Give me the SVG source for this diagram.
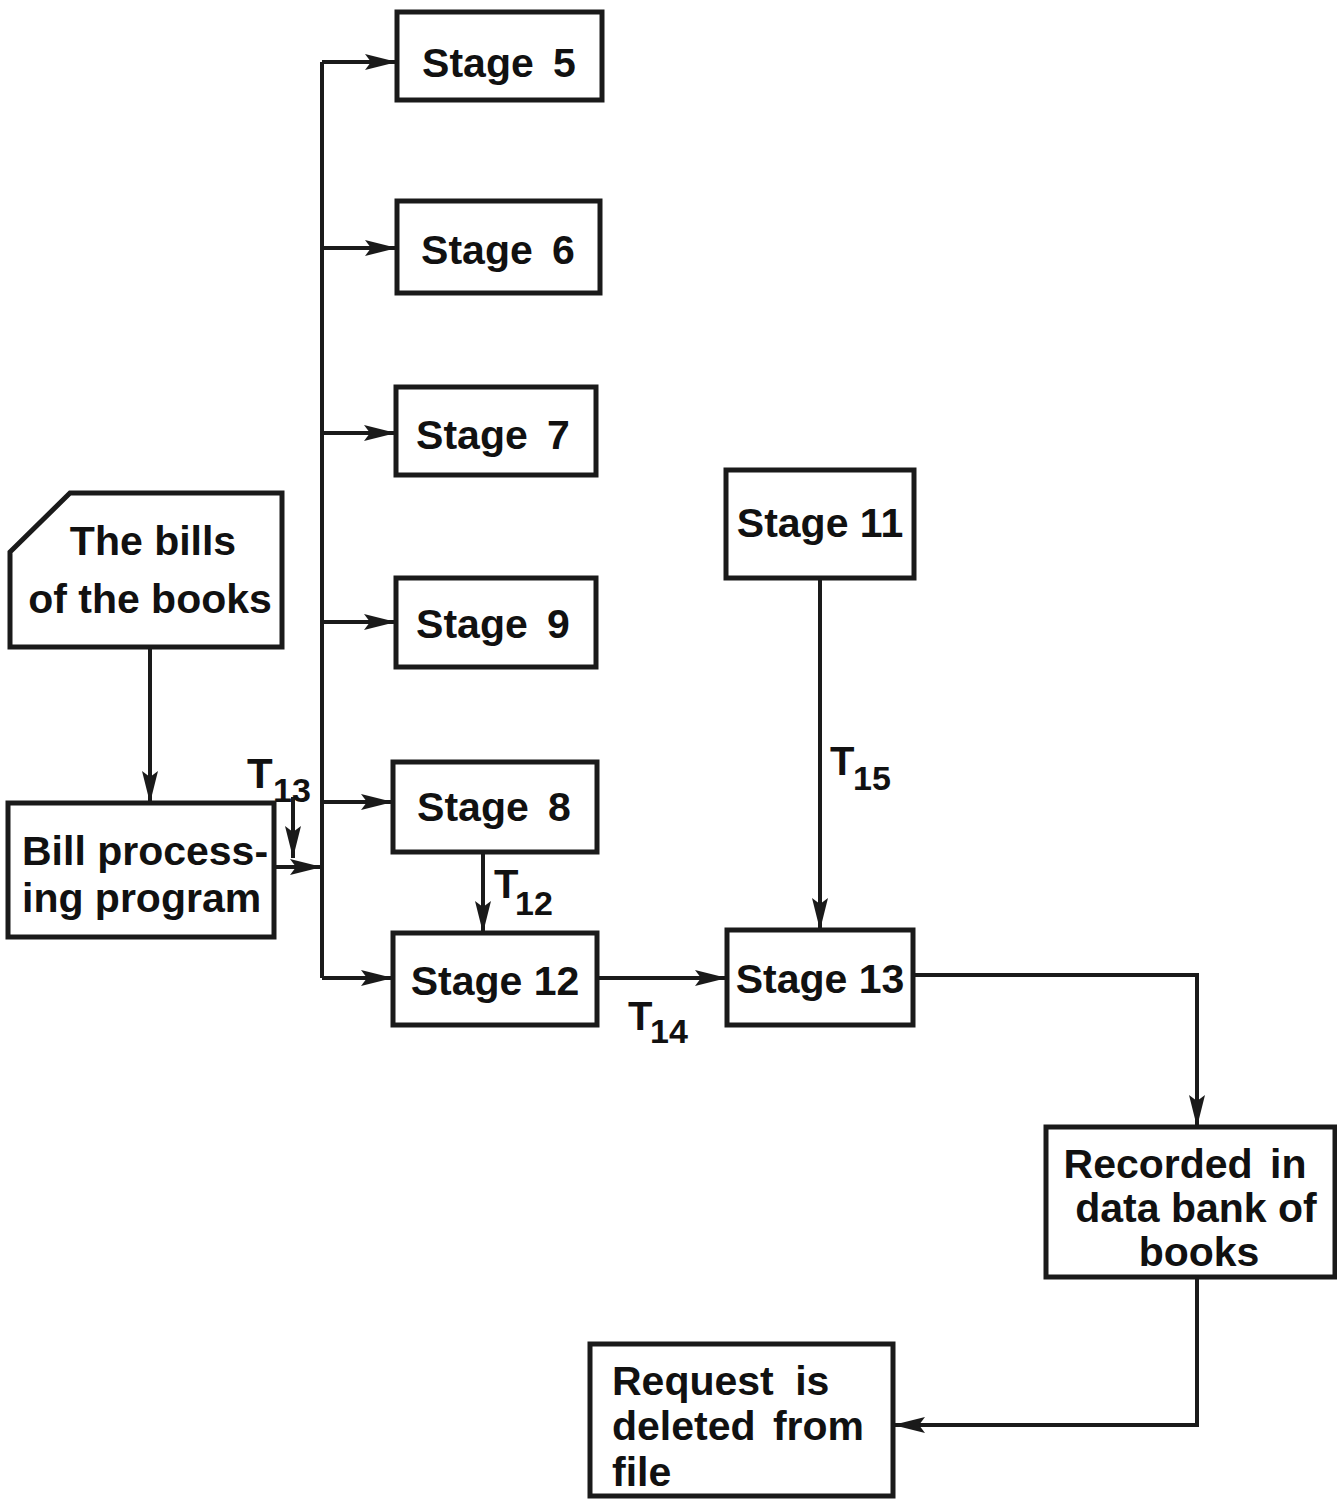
<svg xmlns="http://www.w3.org/2000/svg" width="1337" height="1499" viewBox="0 0 1337 1499">
<defs>
<marker id="ah" markerUnits="userSpaceOnUse" markerWidth="34" markerHeight="20" refX="32" refY="10" orient="auto">
<path d="M0,2 L32,10 L0,18 L6,10 Z" fill="#1a1a1a"/>
</marker>
<style>
.box{fill:#fff;stroke:#1a1a1a;stroke-width:5}
.ln{fill:none;stroke:#1a1a1a;stroke-width:4}
.t{font-family:"Liberation Sans",Arial,sans-serif;font-weight:bold;fill:#111;font-size:41px}
.st{text-anchor:middle;word-spacing:8px}
.lb{font-family:"Liberation Sans",Arial,sans-serif;font-weight:bold;fill:#111}
</style>
</defs>
<rect width="1337" height="1499" fill="#fff"/>

<g id="connectors">
<polyline class="ln" points="322,62 322,978"/>
<line class="ln" x1="322" y1="62" x2="397" y2="62" marker-end="url(#ah)"/>
<line class="ln" x1="322" y1="248" x2="397" y2="248" marker-end="url(#ah)"/>
<line class="ln" x1="322" y1="433" x2="396" y2="433" marker-end="url(#ah)"/>
<line class="ln" x1="322" y1="622" x2="396" y2="622" marker-end="url(#ah)"/>
<line class="ln" x1="322" y1="802" x2="393" y2="802" marker-end="url(#ah)"/>
<line class="ln" x1="322" y1="978" x2="393" y2="978" marker-end="url(#ah)"/>
<line class="ln" x1="274" y1="867" x2="322" y2="867" marker-end="url(#ah)"/>
<line class="ln" x1="293" y1="797" x2="293" y2="858" marker-end="url(#ah)"/>
<line class="ln" x1="150" y1="648" x2="150" y2="803" marker-end="url(#ah)"/>
<line class="ln" x1="483" y1="852" x2="483" y2="933" marker-end="url(#ah)"/>
<line class="ln" x1="597" y1="978" x2="727" y2="978" marker-end="url(#ah)"/>
<line class="ln" x1="820" y1="578" x2="820" y2="930" marker-end="url(#ah)"/>
<polyline class="ln" points="913,975 1197,975 1197,1127" marker-end="url(#ah)"/>
<polyline class="ln" points="1197,1276 1197,1425 893,1425" marker-end="url(#ah)"/>
<text class="lb" x="247" y="788" font-size="42">T</text>
<text class="lb" x="273" y="802" font-size="34">13</text>
<text class="lb" x="494" y="898" font-size="40">T</text>
<text class="lb" x="515" y="915" font-size="34">12</text>
<text class="lb" x="830" y="775" font-size="40">T</text>
<text class="lb" x="853" y="790" font-size="34">15</text>
<text class="lb" x="628" y="1030" font-size="40">T</text>
<text class="lb" x="650" y="1043" font-size="34">14</text>
</g>

<g id="bills">
<path class="box" d="M10,552 L70,493 L282,493 L282,647 L10,647 Z"/>
<text class="t" x="153" y="555" text-anchor="middle">The bills</text>
<text class="t" x="150" y="613" text-anchor="middle">of the books</text>
</g>

<g id="billproc">
<rect class="box" x="8" y="803" width="266" height="134"/>
<text class="t" x="22" y="865">Bill process-</text>
<text class="t" x="22" y="912">ing program</text>
</g>

<g id="stage5">
<rect class="box" x="397" y="12" width="205" height="88"/>
<text class="t st" x="499" y="77">Stage 5</text>
</g>
<g id="stage6">
<rect class="box" x="397" y="201" width="203" height="92"/>
<text class="t st" x="498" y="264">Stage 6</text>
</g>
<g id="stage7">
<rect class="box" x="396" y="387" width="200" height="88"/>
<text class="t st" x="493" y="449">Stage 7</text>
</g>
<g id="stage9">
<rect class="box" x="396" y="578" width="200" height="89"/>
<text class="t st" x="493" y="638">Stage 9</text>
</g>
<g id="stage8">
<rect class="box" x="393" y="762" width="204" height="90"/>
<text class="t st" x="494" y="821">Stage 8</text>
</g>
<g id="stage12">
<rect class="box" x="393" y="933" width="204" height="92"/>
<text class="t" x="495" y="995" text-anchor="middle">Stage 12</text>
</g>
<g id="stage11">
<rect class="box" x="726" y="470" width="188" height="108"/>
<text class="t" x="820" y="537" text-anchor="middle">Stage 11</text>
</g>
<g id="stage13">
<rect class="box" x="727" y="930" width="186" height="95"/>
<text class="t" x="820" y="993" text-anchor="middle">Stage 13</text>
</g>
<g id="recorded">
<rect class="box" x="1046" y="1127" width="289" height="150"/>
<text class="t" x="1185" y="1178" text-anchor="middle" word-spacing="6">Recorded in</text>
<text class="t" x="1196" y="1222" text-anchor="middle">data bank of</text>
<text class="t" x="1199" y="1266" text-anchor="middle">books</text>
</g>
<g id="request">
<rect class="box" x="590" y="1344" width="303" height="152"/>
<text class="t" x="612" y="1395" word-spacing="10">Request is</text>
<text class="t" x="612" y="1440" word-spacing="6">deleted from</text>
<text class="t" x="612" y="1486">file</text>
</g>
</svg>
